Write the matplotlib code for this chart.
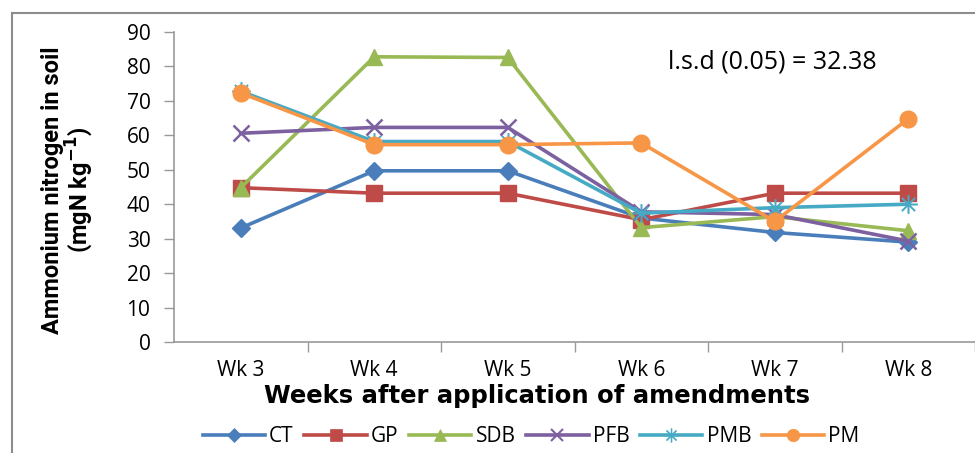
import matplotlib
matplotlib.use("Agg")
import matplotlib.pyplot as plt
from matplotlib.lines import Line2D

weeks = ["Wk 3", "Wk 4", "Wk 5", "Wk 6", "Wk 7", "Wk 8"]
CT  = [33.1, 49.7, 49.7, 36.0, 31.8, 29.0]
GP  = [44.8, 43.2, 43.2, 35.5, 43.2, 43.2]
SDB = [44.8, 82.8, 82.6, 33.2, 36.4, 32.3]
PFB = [60.6, 62.3, 62.3, 37.8, 37.0, 29.3]
PMB = [72.8, 58.2, 58.2, 37.4, 39.0, 40.0]
PM  = [72.3, 57.3, 57.3, 57.8, 35.0, 64.8]

series = [
    ("CT", CT, "#4A7EBB", "D", 9),
    ("GP", GP, "#BE4B48", "s", 11),
    ("SDB", SDB, "#98B954", "^", 12),
    ("PFB", PFB, "#7D60A0", "x", 12),
    ("PMB", PMB, "#46AAC5", "$\u2733$", 13),
    ("PM", PM, "#F79646", "o", 12),
]

W, H = 975, 453
fig = plt.figure(figsize=(W / 100, H / 100), dpi=100)
ax = fig.add_axes([174 / W, 1 - 342 / H, (975 - 174) / W, 310 / H])

x = list(range(len(weeks)))
for name, vals, col, mk, ms in series:
    kw = dict(color=col, lw=2.6, marker=mk, markersize=ms, label=name)
    if mk == "x":
        kw["markeredgewidth"] = 1.8
    elif mk.startswith("$"):
        kw["markeredgewidth"] = 0.5
    ax.plot(x, vals, **kw)

tick_font = "Open Sans"
ax.set_xlim(-0.5, 5.5)
ax.set_ylim(0, 90)
ax.set_yticks(range(0, 91, 10))
ax.set_xticks(x)
ax.set_xticklabels(weeks, family=tick_font, fontsize=15)
ax.set_xticks([0.5, 1.5, 2.5, 3.5, 4.5, 5.5], minor=True)
for lbl in ax.get_yticklabels():
    lbl.set_family(tick_font)
    lbl.set_fontsize(15)
ax.tick_params(axis="x", which="major", length=0, pad=13)
ax.tick_params(axis="x", which="minor", length=7, color="#999999", width=1)
ax.tick_params(axis="y", length=7, color="#999999", width=1, pad=10)
for s in ["top", "right"]:
    ax.spines[s].set_visible(False)
for s in ["left", "bottom"]:
    ax.spines[s].set_color("#999999")
    ax.spines[s].set_linewidth(1.2)

fig.text(537 / W, 1 - 396 / H, "Weeks after application of amendments",
         family="DejaVu Sans", fontweight="bold", fontsize=17.5,
         ha="center", va="center")

fig.text(68 / W, 1 - 190 / H, "Ammonium nitrogen in soil\n(mgN kg$^{\\mathbf{-1}}$)",
         rotation=90, ha="center", va="center", fontsize=17, fontweight="bold",
         family=["Roboto", "DejaVu Sans"], linespacing=1.0)

fig.text(668 / W, 1 - 62 / H, "l.s.d (0.05) = 32.38", family=tick_font,
         fontsize=18, ha="left", va="center")

handles = [Line2D([0], [0], color=c, lw=2.6, marker=m, markersize=ms * 0.75,
                  markeredgewidth=(1.5 if m == "x" else 0.5))
           for _, _, c, m, ms in series]
fig.legend(handles, [s[0] for s in series], loc="center",
           bbox_to_anchor=(531 / W, 1 - 437 / H), ncol=6, frameon=False,
           prop={"family": tick_font, "size": 15}, handlelength=3.0,
           columnspacing=0.5, handletextpad=0.2)

frame_col = "#8C8C8C"
fig.add_artist(Line2D([12 / W, 12 / W], [1 - 13 / H, 0], color=frame_col,
                      lw=1.5, transform=fig.transFigure))
fig.add_artist(Line2D([12 / W, 1], [1 - 13 / H, 1 - 13 / H], color=frame_col,
                      lw=1.5, transform=fig.transFigure))

fig.savefig("out.png", dpi=100)
